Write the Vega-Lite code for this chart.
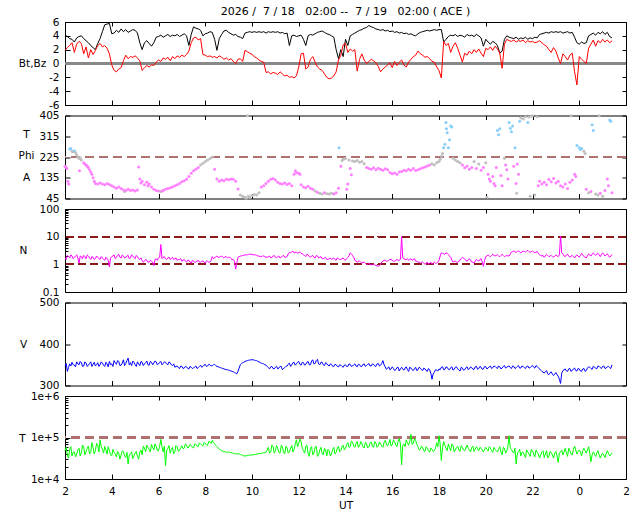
{
"$schema": "https://vega.github.io/schema/vega-lite/v6.json",
"padding": {"left": 17, "top": 5, "right": 5, "bottom": 2},
"background": "white",
"datasets": {
"sw": [
{"t":2.0,"bt":4.1,"bz":1.9,"n":1.7,"v":346,"tp":48000},
{"t":2.1,"bt":3.9,"bz":2.3,"n":2.1,"v":334,"tp":38000},
{"t":2.2,"bt":3.6,"bz":2.6,"n":1.7,"v":352,"tp":52000},
{"t":2.3,"bt":3.5,"bz":3.0,"n":2.0,"v":356,"tp":36000},
{"t":2.4,"bt":3.1,"bz":1.6,"n":1.8,"v":349,"tp":45000},
{"t":2.5,"bt":3.7,"bz":2.8,"n":2.2,"v":357,"tp":40000},
{"t":2.6,"bt":3.9,"bz":3.2,"n":1.1,"v":350,"tp":55000},
{"t":2.7,"bt":4.0,"bz":2.9,"n":1.9,"v":355,"tp":42000},
{"t":2.8,"bt":3.6,"bz":1.4,"n":2.1,"v":347,"tp":60000},
{"t":2.9,"bt":3.3,"bz":2.4,"n":1.6,"v":354,"tp":46000},
{"t":3.0,"bt":3.0,"bz":0.8,"n":2.0,"v":349,"tp":62000},
{"t":3.1,"bt":2.6,"bz":2.0,"n":1.5,"v":357,"tp":44000},
{"t":3.2,"bt":2.3,"bz":1.3,"n":1.8,"v":351,"tp":58000},
{"t":3.3,"bt":2.0,"bz":1.9,"n":1.6,"v":347,"tp":48000},
{"t":3.4,"bt":2.9,"bz":2.6,"n":1.8,"v":355,"tp":66000},
{"t":3.5,"bt":3.6,"bz":2.9,"n":1.5,"v":350,"tp":88000},
{"t":3.6,"bt":4.6,"bz":2.4,"n":1.7,"v":354,"tp":52000},
{"t":3.7,"bt":5.6,"bz":2.6,"n":1.4,"v":346,"tp":61000},
{"t":3.8,"bt":5.7,"bz":2.2,"n":1.6,"v":352,"tp":40000},
{"t":3.9,"bt":5.8,"bz":1.4,"n":0.8,"v":358,"tp":47000},
{"t":4.0,"bt":4.3,"bz":-0.2,"n":1.9,"v":352,"tp":36000},
{"t":4.1,"bt":4.4,"bz":-1.0,"n":2.2,"v":360,"tp":44000},
{"t":4.2,"bt":4.8,"bz":-1.2,"n":1.8,"v":351,"tp":34000},
{"t":4.3,"bt":4.5,"bz":-0.8,"n":2.3,"v":358,"tp":42000},
{"t":4.4,"bt":5.0,"bz":-0.6,"n":1.7,"v":349,"tp":38000},
{"t":4.5,"bt":4.6,"bz":0.4,"n":2.0,"v":362,"tp":46000},
{"t":4.6,"bt":4.9,"bz":1.2,"n":1.8,"v":353,"tp":33000},
{"t":4.7,"bt":4.5,"bz":0.7,"n":2.1,"v":366,"tp":23000},
{"t":4.8,"bt":4.7,"bz":1.0,"n":1.7,"v":355,"tp":40000},
{"t":4.9,"bt":4.9,"bz":0.9,"n":2.0,"v":359,"tp":31000},
{"t":5.0,"bt":4.8,"bz":1.1,"n":1.6,"v":350,"tp":42000},
{"t":5.1,"bt":4.4,"bz":0.8,"n":1.9,"v":357,"tp":35000},
{"t":5.2,"bt":3.0,"bz":0.4,"n":1.5,"v":348,"tp":44000},
{"t":5.3,"bt":2.0,"bz":-1.0,"n":1.4,"v":356,"tp":38000},
{"t":5.4,"bt":3.0,"bz":-0.6,"n":1.3,"v":352,"tp":55000},
{"t":5.5,"bt":3.3,"bz":-0.3,"n":1.4,"v":359,"tp":65000},
{"t":5.6,"bt":2.9,"bz":-0.5,"n":1.2,"v":349,"tp":52000},
{"t":5.7,"bt":2.5,"bz":-0.2,"n":1.3,"v":356,"tp":68000},
{"t":5.8,"bt":3.0,"bz":-0.3,"n":0.9,"v":354,"tp":50000},
{"t":5.9,"bt":3.8,"bz":0.2,"n":1.6,"v":357,"tp":62000},
{"t":6.0,"bt":3.9,"bz":0.5,"n":1.7,"v":352,"tp":48000},
{"t":6.1,"bt":4.1,"bz":0.3,"n":5.2,"v":358,"tp":90000},
{"t":6.2,"bt":3.8,"bz":0.8,"n":1.8,"v":353,"tp":45000},
{"t":6.3,"bt":4.0,"bz":0.6,"n":1.6,"v":356,"tp":21000},
{"t":6.4,"bt":4.2,"bz":0.9,"n":1.7,"v":350,"tp":55000},
{"t":6.5,"bt":3.9,"bz":0.4,"n":1.5,"v":355,"tp":42000},
{"t":6.6,"bt":4.1,"bz":1.0,"n":1.8,"v":348,"tp":58000},
{"t":6.7,"bt":4.0,"bz":0.7,"n":1.6,"v":344,"tp":46000},
{"t":6.8,"bt":4.2,"bz":1.1,"n":1.4,"v":347,"tp":60000},
{"t":6.9,"bt":3.9,"bz":0.9,"n":1.5,"v":341,"tp":50000},
{"t":7.0,"bt":4.1,"bz":1.2,"n":1.3,"v":346,"tp":63000},
{"t":7.1,"bt":4.3,"bz":1.0,"n":1.5,"v":342,"tp":55000},
{"t":7.2,"bt":4.0,"bz":1.3,"n":1.2,"v":345,"tp":66000},
{"t":7.3,"bt":2.6,"bz":1.8,"n":1.4,"v":340,"tp":58000},
{"t":7.4,"bt":4.2,"bz":3.0,"n":1.1,"v":344,"tp":64000},
{"t":7.5,"bt":5.3,"bz":3.7,"n":1.3,"v":342,"tp":56000},
{"t":7.6,"bt":5.1,"bz":3.8,"n":1.2,"v":347,"tp":68000},
{"t":7.7,"bt":5.0,"bz":3.4,"n":1.4,"v":343,"tp":60000},
{"t":7.8,"bt":4.8,"bz":3.6,"n":1.2,"v":349,"tp":70000},
{"t":7.9,"bt":4.0,"bz":1.3,"n":1.3,"v":346,"tp":62000},
{"t":8.0,"bt":4.3,"bz":1.2,"n":1.1,"v":351,"tp":72000},
{"t":8.1,"bt":4.4,"bz":1.0,"n":1.3,"v":347,"tp":65000},
{"t":8.2,"bt":4.6,"bz":1.1,"n":1.2,"v":350,"tp":78000},
{"t":8.3,"bt":4.5,"bz":0.9,"n":1.9,"v":348,"tp":85000},
{"t":8.4,"bt":3.5,"bz":1.0,"n":1.7,"v":351,"tp":70000},
{"t":8.5,"bt":1.9,"bz":0.8,"n":2.0,"v":346,"tp":60000},
{"t":8.6,"bt":3.6,"bz":1.1,"n":1.8,"v":344,"tp":52000},
{"t":8.7,"bt":4.2,"bz":0.9,"n":2.0,"v":342,"tp":48000},
{"t":8.8,"bt":4.7,"bz":0.6,"n":1.7,"v":340,"tp":46000},
{"t":8.9,"bt":4.8,"bz":0.8,"n":1.9,"v":338,"tp":44000},
{"t":9.0,"bt":4.5,"bz":0.5,"n":1.8,"v":337,"tp":45000},
{"t":9.1,"bt":4.3,"bz":0.7,"n":1.6,"v":335,"tp":43000},
{"t":9.2,"bt":4.1,"bz":0.3,"n":1.5,"v":333,"tp":42000},
{"t":9.3,"bt":4.2,"bz":0.0,"n":0.67,"v":330,"tp":40000},
{"t":9.4,"bt":3.9,"bz":0.6,"n":1.8,"v":334,"tp":41000},
{"t":9.5,"bt":3.8,"bz":0.7,"n":2.0,"v":350,"tp":39000},
{"t":9.6,"bt":3.6,"bz":0.3,"n":2.1,"v":355,"tp":37000},
{"t":9.7,"bt":4.4,"bz":1.9,"n":2.2,"v":358,"tp":36000},
{"t":9.8,"bt":4.5,"bz":1.7,"n":2.2,"v":360,"tp":37000},
{"t":9.9,"bt":4.6,"bz":1.5,"n":2.3,"v":361,"tp":38000},
{"t":10.0,"bt":4.5,"bz":1.3,"n":2.3,"v":362,"tp":38000},
{"t":10.1,"bt":4.6,"bz":1.0,"n":2.2,"v":361,"tp":39000},
{"t":10.2,"bt":4.5,"bz":0.8,"n":2.1,"v":360,"tp":40000},
{"t":10.3,"bt":4.6,"bz":0.5,"n":2.0,"v":357,"tp":41000},
{"t":10.4,"bt":4.5,"bz":0.3,"n":1.9,"v":354,"tp":42000},
{"t":10.5,"bt":4.6,"bz":0.2,"n":2.0,"v":352,"tp":43000},
{"t":10.6,"bt":4.4,"bz":-1.3,"n":1.8,"v":349,"tp":44000},
{"t":10.7,"bt":4.6,"bz":-1.2,"n":1.9,"v":343,"tp":58000},
{"t":10.8,"bt":4.5,"bz":-1.5,"n":1.7,"v":345,"tp":45000},
{"t":10.9,"bt":4.6,"bz":-1.3,"n":2.0,"v":341,"tp":62000},
{"t":11.0,"bt":4.5,"bz":-1.4,"n":1.8,"v":344,"tp":48000},
{"t":11.1,"bt":4.6,"bz":-1.6,"n":1.9,"v":340,"tp":55000},
{"t":11.2,"bt":4.4,"bz":-1.2,"n":1.7,"v":346,"tp":42000},
{"t":11.3,"bt":4.5,"bz":-1.5,"n":2.0,"v":338,"tp":60000},
{"t":11.4,"bt":4.3,"bz":-1.8,"n":1.8,"v":343,"tp":40000},
{"t":11.5,"bt":4.4,"bz":-1.7,"n":1.9,"v":347,"tp":56000},
{"t":11.6,"bt":2.6,"bz":-2.0,"n":2.7,"v":354,"tp":45000},
{"t":11.7,"bt":4.0,"bz":-1.9,"n":2.8,"v":350,"tp":64000},
{"t":11.8,"bt":4.1,"bz":-2.1,"n":2.6,"v":356,"tp":52000},
{"t":11.9,"bt":3.9,"bz":-1.8,"n":2.8,"v":352,"tp":88000},
{"t":12.0,"bt":4.0,"bz":-0.5,"n":2.7,"v":358,"tp":72000},
{"t":12.1,"bt":4.1,"bz":1.4,"n":2.5,"v":349,"tp":80000},
{"t":12.2,"bt":3.5,"bz":1.5,"n":2.2,"v":355,"tp":48000},
{"t":12.3,"bt":2.6,"bz":-0.8,"n":1.9,"v":351,"tp":62000},
{"t":12.4,"bt":4.0,"bz":-0.5,"n":2.2,"v":358,"tp":40000},
{"t":12.5,"bt":4.2,"bz":0.6,"n":1.8,"v":350,"tp":55000},
{"t":12.6,"bt":4.1,"bz":1.0,"n":2.1,"v":362,"tp":38000},
{"t":12.7,"bt":4.3,"bz":0.2,"n":1.7,"v":353,"tp":58000},
{"t":12.8,"bt":4.5,"bz":-0.5,"n":2.0,"v":363,"tp":35000},
{"t":12.9,"bt":4.6,"bz":-0.8,"n":1.8,"v":350,"tp":50000},
{"t":13.0,"bt":4.7,"bz":-1.0,"n":1.6,"v":356,"tp":42000},
{"t":13.1,"bt":4.5,"bz":-1.5,"n":1.7,"v":348,"tp":55000},
{"t":13.2,"bt":4.3,"bz":-2.0,"n":1.5,"v":353,"tp":36000},
{"t":13.3,"bt":4.2,"bz":-2.2,"n":1.6,"v":347,"tp":48000},
{"t":13.4,"bt":4.0,"bz":-2.1,"n":1.5,"v":351,"tp":40000},
{"t":13.5,"bt":3.8,"bz":-1.8,"n":1.7,"v":346,"tp":58000},
{"t":13.6,"bt":2.0,"bz":-1.2,"n":1.4,"v":350,"tp":44000},
{"t":13.7,"bt":0.7,"bz":0.5,"n":1.6,"v":345,"tp":62000},
{"t":13.8,"bt":2.0,"bz":1.2,"n":1.5,"v":349,"tp":48000},
{"t":13.9,"bt":1.0,"bz":2.7,"n":1.7,"v":344,"tp":65000},
{"t":14.0,"bt":3.5,"bz":2.9,"n":1.4,"v":350,"tp":55000},
{"t":14.1,"bt":2.6,"bz":1.6,"n":1.8,"v":346,"tp":75000},
{"t":14.2,"bt":4.0,"bz":2.1,"n":2.6,"v":351,"tp":60000},
{"t":14.3,"bt":4.2,"bz":1.8,"n":2.1,"v":347,"tp":78000},
{"t":14.4,"bt":4.4,"bz":2.0,"n":1.4,"v":352,"tp":58000},
{"t":14.5,"bt":4.6,"bz":-1.1,"n":1.2,"v":345,"tp":80000},
{"t":14.6,"bt":4.8,"bz":0.6,"n":1.3,"v":350,"tp":62000},
{"t":14.7,"bt":4.9,"bz":1.4,"n":1.1,"v":346,"tp":72000},
{"t":14.8,"bt":5.1,"bz":0.5,"n":1.2,"v":352,"tp":56000},
{"t":14.9,"bt":5.2,"bz":0.0,"n":1.0,"v":348,"tp":70000},
{"t":15.0,"bt":5.5,"bz":0.3,"n":1.1,"v":353,"tp":60000},
{"t":15.1,"bt":5.3,"bz":0.6,"n":0.95,"v":347,"tp":78000},
{"t":15.2,"bt":5.2,"bz":0.4,"n":1.0,"v":351,"tp":58000},
{"t":15.3,"bt":5.0,"bz":0.1,"n":0.9,"v":346,"tp":74000},
{"t":15.4,"bt":4.9,"bz":-0.4,"n":0.85,"v":353,"tp":62000},
{"t":15.5,"bt":4.8,"bz":-1.2,"n":1.0,"v":349,"tp":70000},
{"t":15.6,"bt":4.9,"bz":-0.8,"n":1.3,"v":360,"tp":58000},
{"t":15.7,"bt":4.7,"bz":-0.5,"n":1.4,"v":345,"tp":85000},
{"t":15.8,"bt":4.8,"bz":-0.2,"n":1.3,"v":342,"tp":62000},
{"t":15.9,"bt":4.6,"bz":0.1,"n":1.5,"v":338,"tp":90000},
{"t":16.0,"bt":4.7,"bz":-0.6,"n":1.4,"v":345,"tp":66000},
{"t":16.1,"bt":4.5,"bz":0.3,"n":1.3,"v":336,"tp":80000},
{"t":16.2,"bt":4.6,"bz":-0.3,"n":1.5,"v":343,"tp":60000},
{"t":16.3,"bt":4.4,"bz":0.2,"n":1.4,"v":335,"tp":95000},
{"t":16.4,"bt":4.5,"bz":0.5,"n":10,"v":344,"tp":22000},
{"t":16.5,"bt":4.3,"bz":-0.2,"n":1.6,"v":337,"tp":70000},
{"t":16.6,"bt":4.4,"bz":-0.5,"n":1.5,"v":345,"tp":88000},
{"t":16.7,"bt":4.2,"bz":0.2,"n":1.4,"v":334,"tp":65000},
{"t":16.8,"bt":4.3,"bz":0.6,"n":1.6,"v":342,"tp":120000},
{"t":16.9,"bt":4.1,"bz":1.0,"n":1.5,"v":336,"tp":72000},
{"t":17.0,"bt":4.0,"bz":1.2,"n":1.3,"v":344,"tp":85000},
{"t":17.1,"bt":4.3,"bz":1.8,"n":1.2,"v":338,"tp":60000},
{"t":17.2,"bt":4.5,"bz":1.4,"n":1.1,"v":342,"tp":52000},
{"t":17.3,"bt":4.6,"bz":1.2,"n":1.2,"v":336,"tp":58000},
{"t":17.4,"bt":4.7,"bz":0.9,"n":1.0,"v":340,"tp":46000},
{"t":17.5,"bt":4.8,"bz":1.0,"n":1.2,"v":334,"tp":55000},
{"t":17.6,"bt":4.7,"bz":0.7,"n":1.1,"v":338,"tp":44000},
{"t":17.7,"bt":4.8,"bz":0.3,"n":1.0,"v":315,"tp":52000},
{"t":17.8,"bt":4.9,"bz":0.2,"n":1.2,"v":332,"tp":48000},
{"t":17.9,"bt":4.8,"bz":-0.5,"n":1.1,"v":337,"tp":75000},
{"t":18.0,"bt":4.9,"bz":-1.0,"n":1.4,"v":340,"tp":110000},
{"t":18.1,"bt":4.9,"bz":-2.1,"n":2.6,"v":344,"tp":28000},
{"t":18.2,"bt":3.1,"bz":3.2,"n":2.4,"v":338,"tp":80000},
{"t":18.3,"bt":3.5,"bz":2.6,"n":2.6,"v":345,"tp":55000},
{"t":18.4,"bt":3.9,"bz":2.9,"n":2.3,"v":339,"tp":70000},
{"t":18.5,"bt":4.1,"bz":1.6,"n":1.8,"v":343,"tp":48000},
{"t":18.6,"bt":4.0,"bz":2.5,"n":1.2,"v":337,"tp":65000},
{"t":18.7,"bt":4.2,"bz":3.0,"n":1.3,"v":344,"tp":50000},
{"t":18.8,"bt":3.9,"bz":2.2,"n":1.2,"v":340,"tp":62000},
{"t":18.9,"bt":4.1,"bz":1.2,"n":1.4,"v":335,"tp":46000},
{"t":19.0,"bt":4.0,"bz":0.2,"n":1.8,"v":342,"tp":58000},
{"t":19.1,"bt":3.8,"bz":1.5,"n":1.5,"v":338,"tp":48000},
{"t":19.2,"bt":4.2,"bz":1.2,"n":1.3,"v":345,"tp":66000},
{"t":19.3,"bt":4.0,"bz":1.8,"n":1.6,"v":340,"tp":50000},
{"t":19.4,"bt":4.1,"bz":1.4,"n":1.2,"v":343,"tp":58000},
{"t":19.5,"bt":3.9,"bz":2.0,"n":1.1,"v":339,"tp":46000},
{"t":19.6,"bt":4.2,"bz":1.6,"n":1.5,"v":346,"tp":60000},
{"t":19.7,"bt":4.0,"bz":2.1,"n":1.3,"v":341,"tp":48000},
{"t":19.8,"bt":3.7,"bz":1.5,"n":1.6,"v":344,"tp":55000},
{"t":19.9,"bt":2.5,"bz":1.0,"n":0.85,"v":340,"tp":45000},
{"t":20.0,"bt":3.5,"bz":2.2,"n":1.9,"v":345,"tp":58000},
{"t":20.1,"bt":3.1,"bz":2.0,"n":2.2,"v":342,"tp":47000},
{"t":20.2,"bt":2.8,"bz":2.4,"n":1.9,"v":347,"tp":55000},
{"t":20.3,"bt":3.2,"bz":1.9,"n":2.3,"v":343,"tp":44000},
{"t":20.4,"bt":3.0,"bz":2.5,"n":2.0,"v":346,"tp":52000},
{"t":20.5,"bt":2.6,"bz":2.1,"n":2.2,"v":341,"tp":45000},
{"t":20.6,"bt":1.5,"bz":1.5,"n":1.9,"v":345,"tp":60000},
{"t":20.7,"bt":1.8,"bz":-0.7,"n":2.3,"v":342,"tp":38000},
{"t":20.8,"bt":3.5,"bz":2.8,"n":1.9,"v":348,"tp":55000},
{"t":20.9,"bt":4.0,"bz":3.5,"n":2.1,"v":344,"tp":48000},
{"t":21.0,"bt":3.8,"bz":3.3,"n":2.0,"v":347,"tp":110000},
{"t":21.1,"bt":3.7,"bz":3.2,"n":2.8,"v":341,"tp":52000},
{"t":21.2,"bt":3.6,"bz":3.4,"n":3.0,"v":346,"tp":42000},
{"t":21.3,"bt":3.8,"bz":3.1,"n":2.7,"v":343,"tp":23000},
{"t":21.4,"bt":3.5,"bz":3.3,"n":3.1,"v":348,"tp":46000},
{"t":21.5,"bt":3.7,"bz":3.2,"n":2.6,"v":342,"tp":36000},
{"t":21.6,"bt":3.6,"bz":3.4,"n":3.0,"v":346,"tp":44000},
{"t":21.7,"bt":3.8,"bz":3.0,"n":2.8,"v":341,"tp":33000},
{"t":21.8,"bt":3.5,"bz":3.3,"n":3.2,"v":347,"tp":45000},
{"t":21.9,"bt":3.7,"bz":3.1,"n":2.7,"v":343,"tp":35000},
{"t":22.0,"bt":3.6,"bz":3.2,"n":3.0,"v":348,"tp":48000},
{"t":22.1,"bt":3.8,"bz":3.0,"n":2.6,"v":342,"tp":34000},
{"t":22.2,"bt":3.7,"bz":3.1,"n":2.9,"v":346,"tp":44000},
{"t":22.3,"bt":4.2,"bz":3.3,"n":2.2,"v":340,"tp":32000},
{"t":22.4,"bt":4.3,"bz":3.0,"n":2.0,"v":334,"tp":45000},
{"t":22.5,"bt":4.4,"bz":2.7,"n":1.8,"v":330,"tp":33000},
{"t":22.6,"bt":4.5,"bz":2.5,"n":2.3,"v":336,"tp":48000},
{"t":22.7,"bt":4.4,"bz":2.0,"n":1.9,"v":326,"tp":35000},
{"t":22.8,"bt":4.6,"bz":1.6,"n":2.1,"v":333,"tp":44000},
{"t":22.9,"bt":4.5,"bz":2.3,"n":1.8,"v":324,"tp":32000},
{"t":23.0,"bt":4.6,"bz":1.8,"n":2.2,"v":331,"tp":46000},
{"t":23.1,"bt":4.5,"bz":0.8,"n":1.9,"v":322,"tp":25000},
{"t":23.2,"bt":4.6,"bz":0.0,"n":10.5,"v":305,"tp":45000},
{"t":23.3,"bt":4.4,"bz":1.4,"n":2.4,"v":336,"tp":38000},
{"t":23.4,"bt":4.5,"bz":1.0,"n":1.9,"v":340,"tp":55000},
{"t":23.5,"bt":4.6,"bz":0.5,"n":2.3,"v":334,"tp":35000},
{"t":23.6,"bt":4.4,"bz":1.2,"n":1.8,"v":341,"tp":48000},
{"t":23.7,"bt":4.5,"bz":1.5,"n":2.1,"v":336,"tp":38000},
{"t":23.8,"bt":3.8,"bz":-1.2,"n":1.7,"v":342,"tp":62000},
{"t":23.9,"bt":3.0,"bz":-3.1,"n":2.2,"v":335,"tp":40000},
{"t":24.0,"bt":2.8,"bz":1.0,"n":1.8,"v":340,"tp":50000},
{"t":24.1,"bt":3.1,"bz":0.6,"n":2.5,"v":334,"tp":36000},
{"t":24.2,"bt":2.9,"bz":0.3,"n":1.9,"v":341,"tp":55000},
{"t":24.3,"bt":3.0,"bz":0.0,"n":1.7,"v":336,"tp":42000},
{"t":24.4,"bt":4.0,"bz":2.2,"n":2.4,"v":345,"tp":60000},
{"t":24.5,"bt":4.2,"bz":2.8,"n":2.0,"v":341,"tp":26000},
{"t":24.6,"bt":4.4,"bz":3.4,"n":2.6,"v":346,"tp":45000},
{"t":24.7,"bt":4.1,"bz":2.5,"n":2.1,"v":342,"tp":35000},
{"t":24.8,"bt":4.5,"bz":3.3,"n":2.5,"v":347,"tp":48000},
{"t":24.9,"bt":4.3,"bz":3.0,"n":1.9,"v":343,"tp":32000},
{"t":25.0,"bt":4.6,"bz":3.5,"n":2.6,"v":346,"tp":42000},
{"t":25.1,"bt":4.2,"bz":3.1,"n":2.0,"v":341,"tp":33000},
{"t":25.2,"bt":4.5,"bz":3.4,"n":2.4,"v":345,"tp":48000},
{"t":25.3,"bt":3.9,"bz":3.0,"n":1.8,"v":343,"tp":36000},
{"t":25.4,"bt":3.7,"bz":3.3,"n":2.3,"v":350,"tp":42000},
{"t":2.05,"n":1.5,"v":353,"tp":58000},{"t":2.15,"n":1.9,"v":343,"tp":32000},{"t":2.25,"n":2.2,"v":347,"tp":60000},{"t":2.35,"n":1.6,"v":350,"tp":44000},
{"t":2.45,"n":2.0,"v":345,"tp":34000},{"t":2.55,"n":1.7,"v":352,"tp":50000},{"t":2.65,"n":2.0,"v":358,"tp":36000},{"t":2.75,"n":1.6,"v":346,"tp":66000},
{"t":2.85,"n":1.9,"v":357,"tp":38000},{"t":2.95,"n":2.2,"v":346,"tp":55000},{"t":3.05,"n":1.7,"v":353,"tp":40000},{"t":3.15,"n":1.9,"v":346,"tp":75000},
{"t":3.25,"n":1.5,"v":356,"tp":40000},{"t":3.35,"n":2.0,"v":350,"tp":72000},{"t":3.45,"n":1.6,"v":346,"tp":45000},{"t":3.55,"n":1.9,"v":357,"tp":60000},
{"t":3.65,"n":1.5,"v":349,"tp":42000},{"t":3.75,"n":1.8,"v":356,"tp":50000},{"t":3.85,"n":1.4,"v":345,"tp":60000},{"t":3.95,"n":1.7,"v":350,"tp":38000},
{"t":4.05,"n":2.0,"v":346,"tp":52000},{"t":4.15,"n":1.6,"v":355,"tp":40000},{"t":4.25,"n":2.1,"v":360,"tp":46000},{"t":4.35,"n":1.8,"v":348,"tp":30000},
{"t":4.45,"n":2.2,"v":354,"tp":48000},{"t":4.55,"n":1.7,"v":348,"tp":36000},{"t":4.65,"n":2.0,"v":360,"tp":44000},{"t":4.75,"n":1.6,"v":350,"tp":38000},
{"t":4.85,"n":2.2,"v":348,"tp":45000},{"t":4.95,"n":1.8,"v":356,"tp":36000},{"t":5.05,"n":2.1,"v":346,"tp":46000},{"t":5.15,"n":1.6,"v":352,"tp":30000},
{"t":5.25,"n":1.7,"v":358,"tp":50000},{"t":5.35,"n":1.2,"v":348,"tp":62000},{"t":5.45,"n":1.5,"v":355,"tp":45000},{"t":5.55,"n":1.2,"v":350,"tp":58000},
{"t":5.65,"n":1.4,"v":358,"tp":45000},{"t":5.75,"n":1.2,"v":350,"tp":58000},{"t":5.85,"n":1.5,"v":359,"tp":70000},{"t":5.95,"n":1.4,"v":350,"tp":48000},
{"t":6.05,"n":1.8,"v":356,"tp":62000},{"t":6.15,"n":1.6,"v":350,"tp":60000},{"t":6.25,"n":1.9,"v":357,"tp":62000},{"t":6.35,"n":1.5,"v":352,"tp":48000},
{"t":6.45,"n":1.8,"v":357,"tp":64000},{"t":6.55,"n":1.6,"v":350,"tp":52000},{"t":6.65,"n":1.5,"v":352,"tp":40000},{"t":6.75,"n":1.7,"v":346,"tp":64000},
{"t":6.85,"n":1.5,"v":343,"tp":46000},{"t":6.95,"n":1.6,"v":347,"tp":56000},{"t":7.05,"n":1.4,"v":341,"tp":54000},{"t":7.15,"n":1.3,"v":346,"tp":70000},
{"t":7.25,"n":1.4,"v":341,"tp":56000},{"t":7.35,"n":1.2,"v":346,"tp":68000},{"t":7.45,"n":1.4,"v":341,"tp":58000},{"t":7.55,"n":1.2,"v":345,"tp":70000},
{"t":7.65,"n":1.3,"v":341,"tp":62000},{"t":7.75,"n":1.2,"v":346,"tp":74000},{"t":7.85,"n":1.3,"v":344,"tp":66000},{"t":7.95,"n":1.2,"v":349,"tp":76000},
{"t":8.05,"n":1.3,"v":346,"tp":66000},{"t":8.15,"n":1.2,"v":351,"tp":80000},{"t":8.25,"n":1.4,"v":347,"tp":72000},{"t":8.35,"n":1.6,"v":350,"tp":75000},
{"t":8.45,"n":1.9,"v":348,"tp":64000},{"t":8.55,"n":1.8,"v":345,"tp":56000},{"t":8.65,"n":1.9,"v":343,"tp":50000},{"t":8.75,"n":1.8,"v":341,"tp":47000},
{"t":8.85,"n":1.9,"v":339,"tp":45000},{"t":8.95,"n":1.7,"v":338,"tp":44000},{"t":9.05,"n":1.8,"v":336,"tp":44000},{"t":9.15,"n":1.5,"v":334,"tp":42000},
{"t":9.25,"n":1.3,"v":331,"tp":41000},{"t":9.35,"n":1.1,"v":328,"tp":40000},{"t":9.45,"n":1.9,"v":342,"tp":40000},{"t":9.55,"n":2.0,"v":353,"tp":38000},
{"t":9.65,"n":2.1,"v":356,"tp":36000},{"t":9.75,"n":2.2,"v":359,"tp":36000},{"t":9.85,"n":2.3,"v":361,"tp":37000},{"t":9.95,"n":2.3,"v":362,"tp":38000},
{"t":10.05,"n":2.2,"v":362,"tp":38000},{"t":10.15,"n":2.2,"v":360,"tp":39000},{"t":10.25,"n":2.0,"v":358,"tp":40000},{"t":10.35,"n":1.9,"v":355,"tp":41000},
{"t":10.45,"n":2.0,"v":353,"tp":42000},{"t":10.55,"n":1.9,"v":350,"tp":43000},{"t":10.65,"n":1.8,"v":346,"tp":50000},{"t":10.75,"n":2.0,"v":340,"tp":42000},
{"t":10.85,"n":1.8,"v":346,"tp":66000},{"t":10.95,"n":2.1,"v":340,"tp":42000},{"t":11.05,"n":1.7,"v":346,"tp":64000},{"t":11.15,"n":2.0,"v":342,"tp":44000},
{"t":11.25,"n":1.8,"v":346,"tp":65000},{"t":11.35,"n":2.1,"v":341,"tp":44000},{"t":11.45,"n":1.8,"v":346,"tp":62000},{"t":11.55,"n":2.4,"v":351,"tp":42000},
{"t":11.65,"n":2.6,"v":346,"tp":55000},{"t":11.75,"n":3.0,"v":355,"tp":45000},{"t":11.85,"n":2.7,"v":349,"tp":70000},{"t":11.95,"n":2.5,"v":356,"tp":60000},
{"t":12.05,"n":2.8,"v":351,"tp":92000},{"t":12.15,"n":2.4,"v":356,"tp":55000},{"t":12.25,"n":2.1,"v":349,"tp":42000},{"t":12.35,"n":2.3,"v":356,"tp":66000},
{"t":12.45,"n":1.9,"v":350,"tp":35000},{"t":12.55,"n":2.0,"v":359,"tp":60000},{"t":12.65,"n":1.8,"v":352,"tp":42000},{"t":12.75,"n":2.1,"v":360,"tp":62000},
{"t":12.85,"n":1.7,"v":352,"tp":38000},{"t":12.95,"n":1.9,"v":356,"tp":58000},{"t":13.05,"n":1.6,"v":350,"tp":38000},{"t":13.15,"n":1.8,"v":355,"tp":50000},
{"t":13.25,"n":1.5,"v":349,"tp":52000},{"t":13.35,"n":1.7,"v":352,"tp":36000},{"t":13.45,"n":1.6,"v":346,"tp":52000},{"t":13.55,"n":1.5,"v":351,"tp":40000},
{"t":13.65,"n":1.7,"v":346,"tp":55000},{"t":13.75,"n":1.5,"v":350,"tp":45000},{"t":13.85,"n":1.6,"v":346,"tp":60000},{"t":13.95,"n":1.5,"v":349,"tp":50000},
{"t":14.05,"n":1.6,"v":346,"tp":68000},{"t":14.15,"n":2.0,"v":352,"tp":58000},{"t":14.25,"n":2.4,"v":346,"tp":82000},{"t":14.35,"n":1.8,"v":350,"tp":62000},
{"t":14.45,"n":1.3,"v":347,"tp":72000},{"t":14.55,"n":1.3,"v":351,"tp":58000},{"t":14.65,"n":1.2,"v":346,"tp":80000},{"t":14.75,"n":1.2,"v":351,"tp":60000},
{"t":14.85,"n":1.1,"v":346,"tp":76000},{"t":14.95,"n":1.0,"v":351,"tp":56000},{"t":15.05,"n":1.0,"v":347,"tp":72000},{"t":15.15,"n":1.0,"v":352,"tp":62000},
{"t":15.25,"n":0.95,"v":347,"tp":80000},{"t":15.35,"n":0.9,"v":352,"tp":58000},{"t":15.45,"n":0.9,"v":347,"tp":78000},{"t":15.55,"n":1.2,"v":353,"tp":62000},
{"t":15.65,"n":1.4,"v":350,"tp":76000},{"t":15.75,"n":1.3,"v":339,"tp":70000},{"t":15.85,"n":1.4,"v":345,"tp":72000},{"t":15.95,"n":1.5,"v":340,"tp":62000},
{"t":16.05,"n":1.3,"v":341,"tp":88000},{"t":16.15,"n":1.4,"v":338,"tp":66000},{"t":16.25,"n":1.4,"v":344,"tp":80000},{"t":16.35,"n":1.5,"v":340,"tp":70000},
{"t":16.45,"n":1.7,"v":340,"tp":65000},{"t":16.55,"n":1.5,"v":342,"tp":60000},{"t":16.65,"n":1.6,"v":338,"tp":75000},{"t":16.75,"n":1.5,"v":344,"tp":80000},
{"t":16.85,"n":1.4,"v":338,"tp":68000},{"t":16.95,"n":1.6,"v":340,"tp":95000},{"t":17.05,"n":1.3,"v":336,"tp":70000},{"t":17.15,"n":1.2,"v":344,"tp":50000},
{"t":17.25,"n":1.2,"v":338,"tp":62000},{"t":17.35,"n":1.1,"v":342,"tp":48000},{"t":17.45,"n":1.1,"v":336,"tp":60000},{"t":17.55,"n":1.0,"v":341,"tp":48000},
{"t":17.65,"n":1.2,"v":330,"tp":56000},{"t":17.75,"n":1.1,"v":328,"tp":46000},{"t":17.85,"n":1.1,"v":338,"tp":55000},{"t":17.95,"n":1.2,"v":335,"tp":60000},
{"t":18.05,"n":2.0,"v":338,"tp":70000},{"t":18.15,"n":2.5,"v":345,"tp":58000},{"t":18.25,"n":2.3,"v":339,"tp":65000},{"t":18.35,"n":2.5,"v":344,"tp":48000},
{"t":18.45,"n":2.0,"v":338,"tp":58000},{"t":18.55,"n":1.4,"v":345,"tp":70000},{"t":18.65,"n":1.3,"v":339,"tp":45000},{"t":18.75,"n":1.2,"v":345,"tp":58000},
{"t":18.85,"n":1.3,"v":337,"tp":50000},{"t":18.95,"n":1.6,"v":344,"tp":64000},{"t":19.05,"n":1.7,"v":337,"tp":50000},{"t":19.15,"n":1.4,"v":343,"tp":56000},
{"t":19.25,"n":1.4,"v":338,"tp":55000},{"t":19.35,"n":1.4,"v":345,"tp":45000},{"t":19.45,"n":1.2,"v":339,"tp":62000},{"t":19.55,"n":1.3,"v":345,"tp":52000},
{"t":19.65,"n":1.4,"v":339,"tp":54000},{"t":19.75,"n":1.5,"v":346,"tp":58000},{"t":19.85,"n":1.2,"v":339,"tp":50000},{"t":19.95,"n":1.4,"v":346,"tp":52000},
{"t":20.05,"n":2.0,"v":340,"tp":52000},{"t":20.15,"n":2.0,"v":345,"tp":60000},{"t":20.25,"n":2.1,"v":341,"tp":48000},{"t":20.35,"n":2.1,"v":347,"tp":58000},
{"t":20.45,"n":2.1,"v":343,"tp":48000},{"t":20.55,"n":2.0,"v":347,"tp":52000},{"t":20.65,"n":2.1,"v":340,"tp":45000},{"t":20.75,"n":2.1,"v":346,"tp":58000},
{"t":20.85,"n":2.0,"v":342,"tp":42000},{"t":20.95,"n":2.0,"v":346,"tp":62000},{"t":21.05,"n":2.4,"v":343,"tp":55000},{"t":21.15,"n":2.9,"v":347,"tp":45000},
{"t":21.25,"n":2.8,"v":341,"tp":55000},{"t":21.35,"n":2.9,"v":346,"tp":40000},{"t":21.45,"n":2.8,"v":342,"tp":52000},{"t":21.55,"n":2.8,"v":347,"tp":44000},
{"t":21.65,"n":2.9,"v":343,"tp":38000},{"t":21.75,"n":3.0,"v":346,"tp":50000},{"t":21.85,"n":2.9,"v":342,"tp":40000},{"t":21.95,"n":2.9,"v":346,"tp":52000},
{"t":22.05,"n":2.8,"v":344,"tp":40000},{"t":22.15,"n":2.8,"v":348,"tp":50000},{"t":22.25,"n":2.5,"v":343,"tp":40000},{"t":22.35,"n":2.1,"v":337,"tp":38000},
{"t":22.45,"n":2.1,"v":332,"tp":48000},{"t":22.55,"n":2.0,"v":333,"tp":40000},{"t":22.65,"n":2.1,"v":328,"tp":32000},{"t":22.75,"n":2.0,"v":330,"tp":46000},
{"t":22.85,"n":1.9,"v":328,"tp":38000},{"t":22.95,"n":2.0,"v":327,"tp":42000},{"t":23.05,"n":2.0,"v":326,"tp":36000},{"t":23.15,"n":2.2,"v":315,"tp":42000},
{"t":23.25,"n":2.6,"v":330,"tp":50000},{"t":23.35,"n":2.0,"v":338,"tp":45000},{"t":23.45,"n":2.2,"v":335,"tp":42000},{"t":23.55,"n":2.0,"v":340,"tp":55000},
{"t":23.65,"n":2.0,"v":334,"tp":40000},{"t":23.75,"n":1.9,"v":340,"tp":52000},{"t":23.85,"n":2.0,"v":336,"tp":50000},{"t":23.95,"n":2.0,"v":341,"tp":46000},
{"t":24.05,"n":2.1,"v":335,"tp":45000},{"t":24.15,"n":2.2,"v":340,"tp":48000},{"t":24.25,"n":1.8,"v":334,"tp":48000},{"t":24.35,"n":2.0,"v":342,"tp":50000},
{"t":24.45,"n":2.2,"v":344,"tp":42000},{"t":24.55,"n":2.3,"v":339,"tp":38000},{"t":24.65,"n":2.4,"v":344,"tp":40000},{"t":24.75,"n":2.3,"v":340,"tp":42000},
{"t":24.85,"n":2.2,"v":346,"tp":38000},{"t":24.95,"n":2.3,"v":341,"tp":38000},{"t":25.05,"n":2.3,"v":347,"tp":38000},{"t":25.15,"n":2.2,"v":342,"tp":40000},
{"t":25.25,"n":2.1,"v":346,"tp":42000},{"t":25.35,"n":2.0,"v":341,"tp":38000}
],
"phi": [
{"t":2.0,"p":185,"c":"p"},{"t":2.04,"p":182,"c":"p"},{"t":2.08,"p":175,"c":"p"},{"t":2.12,"p":120,"c":"p"},{"t":2.16,"p":108,"c":"p"},
{"t":2.2,"p":260,"c":"b"},{"t":2.25,"p":262,"c":"b"},{"t":2.3,"p":250,"c":"g"},{"t":2.35,"p":248,"c":"g"},{"t":2.4,"p":252,"c":"b"},
{"t":2.45,"p":245,"c":"g"},{"t":2.5,"p":235,"c":"g"},{"t":2.55,"p":225,"c":"g"},{"t":2.6,"p":218,"c":"g"},{"t":2.65,"p":222,"c":"g"},
{"t":2.62,"p":165,"c":"p"},{"t":2.7,"p":212,"c":"g"},{"t":2.8,"p":200,"c":"p"},{"t":2.85,"p":195,"c":"p"},{"t":2.9,"p":190,"c":"p"},
{"t":2.95,"p":185,"c":"p"},{"t":3.0,"p":180,"c":"p"},{"t":3.05,"p":170,"c":"p"},{"t":3.1,"p":160,"c":"p"},{"t":3.15,"p":150,"c":"p"},
{"t":3.2,"p":135,"c":"p"},{"t":3.25,"p":120,"c":"p"},{"t":3.3,"p":110,"c":"p"},{"t":3.4,"p":108,"c":"p"},{"t":3.5,"p":112,"c":"p"},
{"t":3.6,"p":108,"c":"p"},{"t":3.7,"p":105,"c":"p"},{"t":3.8,"p":110,"c":"p"},{"t":3.9,"p":106,"c":"p"},{"t":4.0,"p":100,"c":"p"},
{"t":4.1,"p":95,"c":"p"},{"t":4.2,"p":90,"c":"p"},{"t":4.3,"p":95,"c":"p"},{"t":4.4,"p":88,"c":"p"},{"t":4.5,"p":82,"c":"p"},
{"t":4.55,"p":75,"c":"g"},{"t":4.6,"p":80,"c":"p"},{"t":4.7,"p":85,"c":"p"},{"t":4.8,"p":80,"c":"p"},{"t":4.9,"p":82,"c":"p"},
{"t":5.0,"p":78,"c":"p"},{"t":5.1,"p":82,"c":"p"},{"t":5.15,"p":182,"c":"p"},{"t":5.2,"p":130,"c":"p"},{"t":5.25,"p":112,"c":"p"},
{"t":5.3,"p":120,"c":"p"},{"t":5.4,"p":105,"c":"p"},{"t":5.5,"p":115,"c":"p"},{"t":5.55,"p":100,"c":"p"},{"t":5.6,"p":108,"c":"p"},
{"t":5.7,"p":95,"c":"p"},{"t":5.8,"p":85,"c":"p"},{"t":5.9,"p":80,"c":"p"},{"t":6.0,"p":78,"c":"p"},{"t":6.1,"p":75,"c":"g"},
{"t":6.15,"p":78,"c":"p"},{"t":6.2,"p":80,"c":"p"},{"t":6.3,"p":85,"c":"p"},{"t":6.4,"p":88,"c":"p"},{"t":6.5,"p":92,"c":"p"},
{"t":6.6,"p":95,"c":"p"},{"t":6.7,"p":100,"c":"p"},{"t":6.8,"p":105,"c":"p"},{"t":6.9,"p":110,"c":"p"},{"t":7.0,"p":118,"c":"p"},
{"t":7.1,"p":122,"c":"p"},{"t":7.2,"p":128,"c":"p"},{"t":7.3,"p":140,"c":"p"},{"t":7.4,"p":155,"c":"p"},{"t":7.5,"p":165,"c":"p"},
{"t":7.6,"p":172,"c":"p"},{"t":7.7,"p":180,"c":"p"},{"t":7.8,"p":190,"c":"g"},{"t":7.9,"p":198,"c":"g"},{"t":8.0,"p":205,"c":"g"},
{"t":8.1,"p":212,"c":"g"},{"t":8.2,"p":218,"c":"g"},{"t":8.3,"p":224,"c":"g"},{"t":8.4,"p":172,"c":"p"},{"t":8.5,"p":130,"c":"p"},
{"t":8.6,"p":120,"c":"p"},{"t":8.7,"p":125,"c":"p"},{"t":8.8,"p":122,"c":"p"},{"t":8.9,"p":128,"c":"p"},{"t":9.0,"p":126,"c":"p"},
{"t":9.1,"p":130,"c":"p"},{"t":9.2,"p":128,"c":"p"},{"t":9.3,"p":120,"c":"p"},{"t":9.4,"p":86,"c":"p"},{"t":9.5,"p":60,"c":"g"},
{"t":9.6,"p":55,"c":"g"},{"t":9.7,"p":50,"c":"g"},{"t":9.75,"p":46,"c":"g"},{"t":9.8,"p":404,"c":"g"},{"t":9.85,"p":55,"c":"g"},
{"t":9.9,"p":50,"c":"g"},{"t":10.0,"p":58,"c":"g"},{"t":10.1,"p":62,"c":"g"},{"t":10.2,"p":60,"c":"g"},{"t":10.3,"p":70,"c":"g"},
{"t":10.4,"p":95,"c":"p"},{"t":10.5,"p":100,"c":"p"},{"t":10.6,"p":110,"c":"p"},{"t":10.7,"p":120,"c":"p"},{"t":10.8,"p":128,"c":"p"},
{"t":10.9,"p":132,"c":"p"},{"t":11.0,"p":125,"c":"p"},{"t":11.1,"p":115,"c":"p"},{"t":11.2,"p":110,"c":"p"},{"t":11.3,"p":108,"c":"p"},
{"t":11.4,"p":112,"c":"p"},{"t":11.5,"p":106,"c":"p"},{"t":11.6,"p":110,"c":"p"},{"t":11.7,"p":100,"c":"p"},{"t":11.8,"p":150,"c":"p"},
{"t":11.85,"p":165,"c":"p"},{"t":11.9,"p":158,"c":"p"},{"t":12.0,"p":155,"c":"p"},{"t":12.05,"p":150,"c":"p"},{"t":12.1,"p":105,"c":"p"},
{"t":12.2,"p":95,"c":"p"},{"t":12.3,"p":92,"c":"p"},{"t":12.4,"p":98,"c":"p"},{"t":12.5,"p":90,"c":"p"},{"t":12.6,"p":85,"c":"p"},
{"t":12.7,"p":78,"c":"g"},{"t":12.8,"p":72,"c":"p"},{"t":12.9,"p":68,"c":"g"},{"t":13.0,"p":65,"c":"g"},{"t":13.1,"p":70,"c":"p"},
{"t":13.2,"p":66,"c":"g"},{"t":13.3,"p":64,"c":"g"},{"t":13.4,"p":68,"c":"g"},{"t":13.5,"p":65,"c":"p"},{"t":13.6,"p":70,"c":"p"},
{"t":13.7,"p":90,"c":"p"},{"t":13.72,"p":265,"c":"b"},{"t":13.8,"p":185,"c":"p"},{"t":13.85,"p":210,"c":"g"},{"t":13.9,"p":215,"c":"g"},
{"t":14.0,"p":218,"c":"g"},{"t":14.05,"p":85,"c":"p"},{"t":14.1,"p":108,"c":"p"},{"t":14.15,"p":212,"c":"g"},{"t":14.2,"p":175,"c":"p"},
{"t":14.25,"p":148,"c":"p"},{"t":14.3,"p":208,"c":"g"},{"t":14.4,"p":205,"c":"g"},{"t":14.5,"p":210,"c":"g"},{"t":14.6,"p":202,"c":"g"},
{"t":14.7,"p":205,"c":"g"},{"t":14.8,"p":196,"c":"g"},{"t":14.9,"p":180,"c":"p"},{"t":15.0,"p":175,"c":"p"},{"t":15.1,"p":172,"c":"p"},
{"t":15.2,"p":178,"c":"p"},{"t":15.3,"p":170,"c":"p"},{"t":15.4,"p":176,"c":"p"},{"t":15.5,"p":172,"c":"p"},{"t":15.6,"p":168,"c":"p"},
{"t":15.7,"p":174,"c":"p"},{"t":15.8,"p":170,"c":"p"},{"t":15.9,"p":158,"c":"p"},{"t":16.0,"p":152,"c":"p"},{"t":16.1,"p":156,"c":"p"},
{"t":16.2,"p":150,"c":"p"},{"t":16.3,"p":160,"c":"p"},{"t":16.4,"p":162,"c":"p"},{"t":16.5,"p":168,"c":"p"},{"t":16.6,"p":165,"c":"p"},
{"t":16.7,"p":172,"c":"p"},{"t":16.8,"p":168,"c":"p"},{"t":16.9,"p":175,"c":"p"},{"t":17.0,"p":166,"c":"p"},{"t":17.1,"p":170,"c":"p"},
{"t":17.2,"p":174,"c":"p"},{"t":17.3,"p":178,"c":"p"},{"t":17.4,"p":182,"c":"p"},{"t":17.5,"p":186,"c":"p"},{"t":17.6,"p":190,"c":"p"},
{"t":17.7,"p":196,"c":"g"},{"t":17.8,"p":190,"c":"g"},{"t":17.9,"p":200,"c":"g"},{"t":18.0,"p":205,"c":"g"},{"t":18.05,"p":215,"c":"g"},
{"t":18.1,"p":228,"c":"g"},{"t":18.15,"p":240,"c":"g"},{"t":18.2,"p":265,"c":"b"},{"t":18.25,"p":280,"c":"b"},{"t":18.3,"p":375,"c":"b"},
{"t":18.32,"p":348,"c":"b"},{"t":18.35,"p":330,"c":"b"},{"t":18.4,"p":265,"c":"b"},{"t":18.45,"p":300,"c":"b"},{"t":18.5,"p":360,"c":"b"},
{"t":18.55,"p":355,"c":"b"},{"t":18.6,"p":220,"c":"g"},{"t":18.7,"p":212,"c":"g"},{"t":18.8,"p":205,"c":"g"},{"t":18.9,"p":200,"c":"g"},
{"t":19.0,"p":190,"c":"p"},{"t":19.1,"p":178,"c":"p"},{"t":19.2,"p":185,"c":"p"},{"t":19.3,"p":172,"c":"p"},{"t":19.4,"p":180,"c":"p"},
{"t":19.5,"p":205,"c":"g"},{"t":19.6,"p":175,"c":"p"},{"t":19.7,"p":195,"c":"g"},{"t":19.8,"p":168,"c":"p"},{"t":19.9,"p":180,"c":"p"},
{"t":20.0,"p":200,"c":"g"},{"t":20.05,"p":50,"c":"g"},{"t":20.1,"p":150,"c":"p"},{"t":20.15,"p":130,"c":"p"},{"t":20.2,"p":120,"c":"p"},
{"t":20.3,"p":140,"c":"p"},{"t":20.35,"p":110,"c":"p"},{"t":20.4,"p":100,"c":"p"},{"t":20.45,"p":180,"c":"p"},{"t":20.5,"p":340,"c":"b"},
{"t":20.55,"p":322,"c":"b"},{"t":20.6,"p":348,"c":"b"},{"t":20.65,"p":145,"c":"p"},{"t":20.7,"p":100,"c":"p"},{"t":20.8,"p":220,"c":"g"},
{"t":20.85,"p":190,"c":"p"},{"t":20.9,"p":170,"c":"p"},{"t":20.95,"p":130,"c":"p"},{"t":21.0,"p":375,"c":"b"},{"t":21.05,"p":350,"c":"b"},
{"t":21.1,"p":335,"c":"b"},{"t":21.15,"p":360,"c":"b"},{"t":21.2,"p":185,"c":"p"},{"t":21.25,"p":265,"c":"b"},{"t":21.3,"p":110,"c":"p"},
{"t":21.32,"p":68,"c":"g"},{"t":21.35,"p":195,"c":"p"},{"t":21.4,"p":150,"c":"p"},{"t":21.45,"p":380,"c":"b"},{"t":21.5,"p":395,"c":"g"},
{"t":21.6,"p":390,"c":"g"},{"t":21.7,"p":400,"c":"g"},{"t":21.8,"p":375,"c":"b"},{"t":21.85,"p":398,"c":"g"},{"t":21.9,"p":55,"c":"g"},
{"t":21.95,"p":402,"c":"g"},{"t":22.0,"p":404,"c":"g"},{"t":22.1,"p":60,"c":"g"},{"t":22.2,"p":400,"c":"g"},{"t":22.25,"p":100,"c":"p"},
{"t":22.3,"p":120,"c":"p"},{"t":22.4,"p":108,"c":"p"},{"t":22.5,"p":115,"c":"p"},{"t":22.6,"p":105,"c":"p"},{"t":22.7,"p":128,"c":"p"},
{"t":22.8,"p":118,"c":"p"},{"t":22.9,"p":132,"c":"p"},{"t":23.0,"p":112,"c":"p"},{"t":23.1,"p":120,"c":"p"},{"t":23.2,"p":100,"c":"p"},
{"t":23.3,"p":95,"c":"p"},{"t":23.4,"p":108,"c":"p"},{"t":23.5,"p":88,"c":"p"},{"t":23.6,"p":115,"c":"p"},{"t":23.65,"p":404,"c":"g"},
{"t":23.7,"p":125,"c":"p"},{"t":23.8,"p":150,"c":"p"},{"t":23.85,"p":140,"c":"p"},{"t":23.9,"p":275,"c":"b"},{"t":24.0,"p":265,"c":"b"},
{"t":24.05,"p":258,"c":"b"},{"t":24.1,"p":262,"c":"b"},{"t":24.2,"p":250,"c":"g"},{"t":24.25,"p":240,"c":"g"},{"t":24.3,"p":85,"c":"p"},
{"t":24.4,"p":70,"c":"g"},{"t":24.5,"p":75,"c":"p"},{"t":24.55,"p":365,"c":"b"},{"t":24.6,"p":340,"c":"b"},{"t":24.7,"p":65,"c":"g"},
{"t":24.8,"p":60,"c":"g"},{"t":24.85,"p":404,"c":"g"},{"t":24.9,"p":68,"c":"p"},{"t":25.0,"p":55,"c":"g"},{"t":25.1,"p":80,"c":"p"},
{"t":25.2,"p":130,"c":"p"},{"t":25.25,"p":100,"c":"p"},{"t":25.3,"p":385,"c":"b"},{"t":25.35,"p":380,"c":"b"},{"t":25.4,"p":70,"c":"p"}
]
},
"config": {
"view": {"stroke": "#000000", "strokeWidth": 1},
"font": "DejaVu Sans",
"axis": {"domain": false, "grid": false, "labelFont": "DejaVu Sans", "labelFontSize": 10.5, "labelColor": "#000000", "tickColor": "#000000", "tickSize": -5, "labelPadding": 11, "labelOverlap": false, "labelFlush": false, "labelBound": false, "titleFont": "DejaVu Sans", "titleFontSize": 10.5, "titleFontWeight": "normal", "titleColor": "#000000"}
},
"spacing": 10.5,
"bounds": "flush",
"vconcat": [
{
"width": 561, "height": 83,
"title": {"text": "2026 /\u00a0 7 / 18 \u00a0 02:00 --\u00a0 7 / 19 \u00a0 02:00 ( ACE )", "font": "DejaVu Sans", "fontSize": 11, "fontWeight": "normal", "color": "#000000", "frame": "group", "anchor": "middle", "offset": 0},
"data": {"name": "sw"},
"transform": [{"filter": "isValid(datum.bt)"}],
"layer": [
{"mark": {"type": "rule", "color": "#888888", "strokeWidth": 1.3}, "encoding": {"y": {"datum": 0, "type": "quantitative", "axis": null}}},
{"mark": {"type": "line", "color": "#000000", "strokeWidth": 1},
 "encoding": {
  "x": {"field": "t", "type": "quantitative", "scale": {"domain": [2, 26], "nice": false, "zero": false}, "axis": {"values": [2,4,6,8,10,12,14,16,18,20,22,24,26], "labels": false, "title": null}},
  "y": {"field": "bt", "type": "quantitative", "scale": {"domain": [-6, 6], "nice": false, "zero": false}, "axis": {"values": [-6,-4,-2,0,2,4,6], "labelExpr": "datum.value < 0 ? '-' + abs(datum.value) : '' + datum.value", "title": "Bt,Bz", "titleAngle": 0, "titleX": -33, "titleY": 41.5, "titleAlign": "center", "titleBaseline": "middle"}}
 }},
{"mark": {"type": "line", "color": "#ff0000", "strokeWidth": 1},
 "encoding": {
  "x": {"field": "t", "type": "quantitative", "axis": {"orient": "top", "values": [2,4,6,8,10,12,14,16,18,20,22,24,26], "labels": false, "title": null, "tickSize": -4}},
  "y": {"field": "bz", "type": "quantitative", "axis": {"orient": "right", "values": [-6,-4,-2,0,2,4,6], "labels": false, "title": null, "tickSize": -4}}
 }}
],
"resolve": {"axis": {"x": "independent", "y": "independent"}}
},
{
"width": 561, "height": 83,
"data": {"name": "phi"},
"layer": [
{"mark": {"type": "rule", "color": "#b07070", "strokeWidth": 2, "strokeDash": [9, 5]}, "encoding": {"y": {"datum": 225, "type": "quantitative", "axis": null}}},
{"mark": {"type": "point", "filled": true, "size": 9, "opacity": 1},
 "encoding": {
  "x": {"field": "t", "type": "quantitative", "scale": {"domain": [2, 26], "nice": false, "zero": false}, "axis": {"values": [2,4,6,8,10,12,14,16,18,20,22,24,26], "labels": false, "title": null}},
  "y": {"field": "p", "type": "quantitative", "scale": {"domain": [45, 405], "nice": false, "zero": false}, "axis": {"values": [45,135,225,315,405], "title": ["T", "Phi", "A"], "titleLineHeight": 21.5, "titleAngle": 0, "titleX": -39, "titleY": 18.5, "titleAlign": "center", "titleBaseline": "middle"}},
  "color": {"field": "c", "type": "nominal", "scale": {"domain": ["p", "g", "b"], "range": ["#ff80ff", "#bebebe", "#87cefa"]}, "legend": null}
 }},
{"mark": {"type": "point", "opacity": 0},
 "encoding": {
  "x": {"field": "t", "type": "quantitative", "axis": {"orient": "top", "values": [2,4,6,8,10,12,14,16,18,20,22,24,26], "labels": false, "title": null, "tickSize": -4}},
  "y": {"field": "p", "type": "quantitative", "axis": {"orient": "right", "values": [45,135,225,315,405], "labels": false, "title": null, "tickSize": -4}}
 }}
],
"resolve": {"axis": {"x": "independent", "y": "independent"}}
},
{
"width": 561, "height": 83,
"data": {"name": "sw"},
"layer": [
{"mark": {"type": "rule", "color": "#8b1a1a", "strokeWidth": 1, "strokeDash": [8, 4]}, "encoding": {"y": {"datum": 1, "type": "quantitative", "axis": null}}},
{"mark": {"type": "rule", "color": "#8b1a1a", "strokeWidth": 1, "strokeDash": [8, 4]}, "encoding": {"y": {"datum": 10, "type": "quantitative", "axis": null}}},
{"mark": {"type": "line", "color": "#ff00ff", "strokeWidth": 1},
 "encoding": {
  "x": {"field": "t", "type": "quantitative", "scale": {"domain": [2, 26], "nice": false, "zero": false}, "axis": {"values": [2,4,6,8,10,12,14,16,18,20,22,24,26], "labels": false, "title": null}},
  "y": {"field": "n", "type": "quantitative", "scale": {"type": "log", "domain": [0.1, 100], "nice": false}, "axis": {"values": [0.1,0.2,0.3,0.4,0.5,0.6,0.7,0.8,0.9,1,2,3,4,5,6,7,8,9,10,20,30,40,50,60,70,80,90,100], "labelExpr": "datum.value == 0.1 ? '0.1' : datum.value == 1 ? '1' : datum.value == 10 ? '10' : datum.value == 100 ? '100' : ''", "tickSize": {"condition": {"test": "datum.value == 0.1 || datum.value == 1 || datum.value == 10 || datum.value == 100", "value": -5}, "value": -3}, "title": "N", "titleAngle": 0, "titleX": -42, "titleY": 41.5, "titleAlign": "center", "titleBaseline": "middle"}}
 }},
{"mark": {"type": "point", "opacity": 0},
 "encoding": {
  "x": {"field": "t", "type": "quantitative", "axis": {"orient": "top", "values": [2,4,6,8,10,12,14,16,18,20,22,24,26], "labels": false, "title": null, "tickSize": -4}},
  "y": {"field": "n", "type": "quantitative", "axis": {"orient": "right", "values": [0.1,1,10,100], "labels": false, "title": null, "tickSize": -4}}
 }}
],
"resolve": {"axis": {"x": "independent", "y": "independent"}}
},
{
"width": 561, "height": 83,
"data": {"name": "sw"},
"layer": [
{"mark": {"type": "line", "color": "#0000ff", "strokeWidth": 1},
 "encoding": {
  "x": {"field": "t", "type": "quantitative", "scale": {"domain": [2, 26], "nice": false, "zero": false}, "axis": {"values": [2,4,6,8,10,12,14,16,18,20,22,24,26], "labels": false, "title": null}},
  "y": {"field": "v", "type": "quantitative", "scale": {"domain": [300, 500], "nice": false, "zero": false}, "axis": {"values": [300,400,500], "title": "V", "titleAngle": 0, "titleX": -42, "titleY": 41.5, "titleAlign": "center", "titleBaseline": "middle"}}
 }},
{"mark": {"type": "point", "opacity": 0},
 "encoding": {
  "x": {"field": "t", "type": "quantitative", "axis": {"orient": "top", "values": [2,4,6,8,10,12,14,16,18,20,22,24,26], "labels": false, "title": null, "tickSize": -4}},
  "y": {"field": "v", "type": "quantitative", "axis": {"orient": "right", "values": [300,400,500], "labels": false, "title": null, "tickSize": -4}}
 }}
],
"resolve": {"axis": {"x": "independent", "y": "independent"}}
},
{
"width": 561, "height": 83,
"data": {"name": "sw"},
"layer": [
{"mark": {"type": "rule", "color": "#b07070", "strokeWidth": 2, "strokeDash": [9, 5]}, "encoding": {"y": {"datum": 100000, "type": "quantitative", "axis": null}}},
{"mark": {"type": "line", "color": "#00ff00", "strokeWidth": 1},
 "encoding": {
  "x": {"field": "t", "type": "quantitative", "scale": {"domain": [2, 26], "nice": false, "zero": false}, "axis": {"values": [2,4,6,8,10,12,14,16,18,20,22,24,26], "labelExpr": "datum.value >= 24 ? '' + (datum.value - 24) : '' + datum.value", "labelPadding": 12, "title": "UT", "titlePadding": 4}},
  "y": {"field": "tp", "type": "quantitative", "scale": {"type": "log", "domain": [10000, 1000000], "nice": false}, "axis": {"values": [10000,20000,30000,40000,50000,60000,70000,80000,90000,100000,200000,300000,400000,500000,600000,700000,800000,900000,1000000], "labelExpr": "datum.value == 10000 ? '1e+4' : datum.value == 100000 ? '1e+5' : datum.value == 1000000 ? '1e+6' : ''", "tickSize": {"condition": {"test": "datum.value == 10000 || datum.value == 100000 || datum.value == 1000000", "value": -5}, "value": -3}, "title": "T", "titleAngle": 0, "titleX": -43, "titleY": 42, "titleAlign": "center", "titleBaseline": "middle"}}
 }},
{"mark": {"type": "point", "opacity": 0},
 "encoding": {
  "x": {"field": "t", "type": "quantitative", "axis": {"orient": "top", "values": [2,4,6,8,10,12,14,16,18,20,22,24,26], "labels": false, "title": null, "tickSize": -4}},
  "y": {"field": "tp", "type": "quantitative", "axis": {"orient": "right", "values": [10000,100000,1000000], "labels": false, "title": null, "tickSize": -4}}
 }}
],
"resolve": {"axis": {"x": "independent", "y": "independent"}}
}
]
}
